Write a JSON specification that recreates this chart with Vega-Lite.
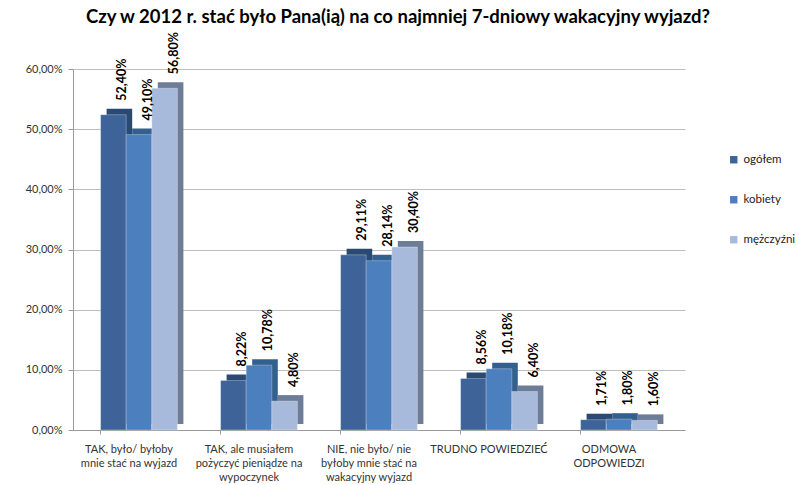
{
  "$schema": "https://vega.github.io/schema/vega-lite/v6.json",
  "autosize": "none",
  "width": 612,
  "height": 361,
  "padding": {"left": 73, "top": 69, "right": 112, "bottom": 55},
  "background": "white",
  "config": {
    "locale": {"number": {"decimal": ",", "thousands": " ", "grouping": [3], "currency": ["", " zł"]}},
    "font": "Lato",
    "view": {"stroke": null}
  },
  "title": {
    "text": "Czy w 2012 r. stać było Pana(ią) na co najmniej 7-dniowy wakacyjny wyjazd?",
    "font": "Lato",
    "fontSize": 18.5,
    "fontWeight": "bold",
    "color": "#000000",
    "anchor": "middle",
    "dx": 19,
    "offset": 6
  },
  "data": {
    "values": [
      {"kategoria": "TAK, było/ byłoby|mnie stać na wyjazd", "serie": "ogółem", "v": 0.524},
      {"kategoria": "TAK, było/ byłoby|mnie stać na wyjazd", "serie": "kobiety", "v": 0.491},
      {"kategoria": "TAK, było/ byłoby|mnie stać na wyjazd", "serie": "mężczyźni", "v": 0.568},
      {"kategoria": "TAK, ale musiałem|pożyczyć pieniądze na|wypoczynek", "serie": "ogółem", "v": 0.0822},
      {"kategoria": "TAK, ale musiałem|pożyczyć pieniądze na|wypoczynek", "serie": "kobiety", "v": 0.1078},
      {"kategoria": "TAK, ale musiałem|pożyczyć pieniądze na|wypoczynek", "serie": "mężczyźni", "v": 0.048},
      {"kategoria": "NIE, nie było/ nie|byłoby mnie stać na|wakacyjny wyjazd", "serie": "ogółem", "v": 0.2911},
      {"kategoria": "NIE, nie było/ nie|byłoby mnie stać na|wakacyjny wyjazd", "serie": "kobiety", "v": 0.2814},
      {"kategoria": "NIE, nie było/ nie|byłoby mnie stać na|wakacyjny wyjazd", "serie": "mężczyźni", "v": 0.304},
      {"kategoria": "TRUDNO POWIEDZIEĆ", "serie": "ogółem", "v": 0.0856},
      {"kategoria": "TRUDNO POWIEDZIEĆ", "serie": "kobiety", "v": 0.1018},
      {"kategoria": "TRUDNO POWIEDZIEĆ", "serie": "mężczyźni", "v": 0.064},
      {"kategoria": "ODMOWA|ODPOWIEDZI", "serie": "ogółem", "v": 0.0171},
      {"kategoria": "ODMOWA|ODPOWIEDZI", "serie": "kobiety", "v": 0.018},
      {"kategoria": "ODMOWA|ODPOWIEDZI", "serie": "mężczyźni", "v": 0.016}
    ]
  },
  "encoding": {
    "x": {
      "field": "kategoria",
      "type": "nominal",
      "sort": null,
      "scale": {"paddingInner": 0.36, "paddingOuter": 0.23},
      "axis": {
        "title": null,
        "labelAngle": 0,
        "labelExpr": "split(datum.label, '|')",
        "labelFont": "Lato",
        "labelFontSize": 11,
        "labelColor": "#333333",
        "labelLineHeight": 14,
        "labelPadding": 9,
        "labelBaseline": "top",
        "labelOffset": -10,
        "domainColor": "#9a9a9a",
        "tickColor": "#9a9a9a",
        "tickSize": 4,
        "bandPosition": 0,
        "grid": false
      }
    },
    "y": {
      "field": "v",
      "type": "quantitative",
      "scale": {"domain": [0, 0.6]},
      "axis": {
        "title": null,
        "format": ".2%",
        "values": [0, 0.1, 0.2, 0.3, 0.4, 0.5, 0.6],
        "labelFont": "Lato",
        "labelFontSize": 11,
        "labelColor": "#333333",
        "labelPadding": 6,
        "domainColor": "#9a9a9a",
        "tickColor": "#9a9a9a",
        "tickSize": 5,
        "gridColor": "#bdbdbd",
        "gridWidth": 1
      }
    }
  },
  "layer": [
    {
      "mark": {"type": "bar", "yOffset": -6, "y2Offset": -2, "stroke": null},
      "encoding": {
        "xOffset": {"field": "serie", "type": "nominal", "sort": ["ogółem", "kobiety", "mężczyźni"], "scale": {"range": [6, 82.8]}},
        "color": {
          "field": "serie",
          "type": "nominal",
          "scale": {"domain": ["ogółem", "kobiety", "mężczyźni"], "range": ["#2a4a73", "#34608f", "#6d7d97"]},
          "legend": null
        }
      }
    },
    {
      "mark": {"type": "bar", "stroke": "#ffffff", "strokeWidth": 0.5, "strokeOpacity": 0.6},
      "encoding": {
        "xOffset": {"field": "serie", "type": "nominal", "sort": ["ogółem", "kobiety", "mężczyźni"], "scale": {"range": [0, 76.8]}},
        "color": {
          "field": "serie",
          "type": "nominal",
          "scale": {"domain": ["ogółem", "kobiety", "mężczyźni"], "range": ["#3e6398", "#4b7fbd", "#a8badb"]},
          "legend": {
            "title": null,
            "orient": "none",
            "legendX": 655,
            "legendY": 85,
            "symbolType": "square",
            "symbolSize": 55,
            "symbolStrokeWidth": 0,
            "rowPadding": 27,
            "labelFont": "Lato",
            "labelFontSize": 11.5,
            "labelColor": "#222222"
          }
        }
      }
    },
    {
      "mark": {"type": "text", "angle": 270, "align": "left", "baseline": "middle", "dx": 14, "dy": 9, "font": "Lato", "fontSize": 12.5, "fontWeight": "bold", "color": "#000000"},
      "encoding": {
        "xOffset": {"field": "serie", "type": "nominal", "sort": ["ogółem", "kobiety", "mężczyźni"], "scale": {"range": [0, 76.8]}},
        "text": {"field": "v", "type": "quantitative", "format": ".2%"}
      }
    }
  ],
  "resolve": {"scale": {"color": "independent", "xOffset": "independent"}}
}
